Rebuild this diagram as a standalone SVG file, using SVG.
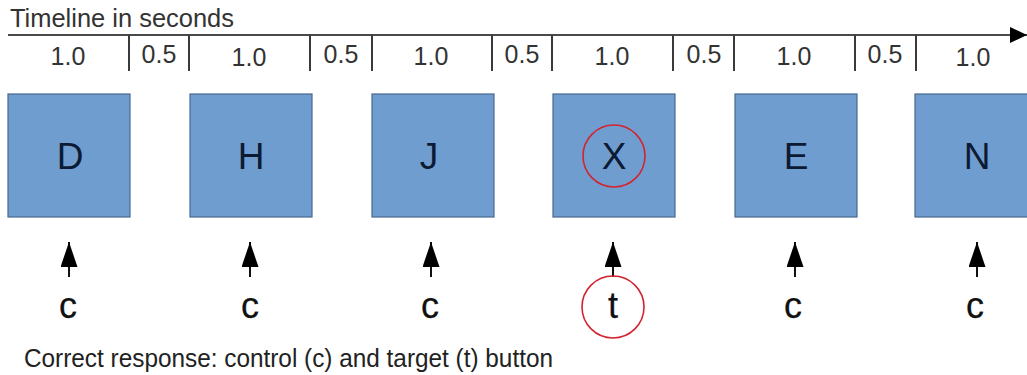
<svg xmlns="http://www.w3.org/2000/svg" width="1027" height="375" viewBox="0 0 1027 375">
  <style>
    text { font-family: "Liberation Sans", Arial, sans-serif; }
    .axis { stroke: #4a4a4a; stroke-width: 2; fill: none; }
    .tick { stroke: #3a3a3a; stroke-width: 2; }
    .dur { font-size: 25px; fill: #333; text-anchor: middle; }
    .title { font-size: 25px; fill: #333; }
    .box { fill: #709dd0; stroke: #47688f; stroke-width: 1.2; }
    .letter { font-size: 37px; fill: #0d1a33; text-anchor: middle; }
    .ring { fill: none; stroke: #d2232f; stroke-width: 1.6; }
    .resp { font-size: 36px; fill: #111; stroke: #111; stroke-width: 0.25; text-anchor: middle; }
    .cue { stroke: #111; stroke-width: 2; marker-end: url(#head); }
    .note { font-size: 26px; fill: #222; }
  </style>
  <defs>
    <marker id="head" markerUnits="userSpaceOnUse" viewBox="0 0 25 17" refX="25" refY="8.5" markerWidth="25" markerHeight="17" orient="auto">
      <path d="M0,0 L25,8.5 L0,17 Z" fill="#000"/>
    </marker>
    <marker id="axisHead" markerUnits="userSpaceOnUse" viewBox="0 0 17 16" refX="17" refY="8" markerWidth="17" markerHeight="16" orient="auto">
      <path d="M0,0 L17,8 L0,16 Z" fill="#000"/>
    </marker>
  </defs>

  <!-- timeline axis with interval marks -->
  <g id="timeline">
    <text class="title" x="10" y="27" textLength="224" lengthAdjust="spacingAndGlyphs">Timeline in seconds</text>
    <line class="axis" x1="8" y1="35" x2="1027" y2="35" marker-end="url(#axisHead)"/>
    <g class="tick">
      <line x1="129" y1="35" x2="129" y2="71"/>
      <line x1="189" y1="35" x2="189" y2="71"/>
      <line x1="310" y1="35" x2="310" y2="71"/>
      <line x1="372" y1="35" x2="372" y2="71"/>
      <line x1="492" y1="35" x2="492" y2="71"/>
      <line x1="552" y1="35" x2="552" y2="71"/>
      <line x1="673" y1="35" x2="673" y2="71"/>
      <line x1="734" y1="35" x2="734" y2="71"/>
      <line x1="855" y1="35" x2="855" y2="71"/>
      <line x1="916" y1="35" x2="916" y2="71"/>
    </g>
    <text class="dur" x="68" y="65">1.0</text>
    <text class="dur" x="159" y="63">0.5</text>
    <text class="dur" x="249" y="66">1.0</text>
    <text class="dur" x="341" y="63">0.5</text>
    <text class="dur" x="431" y="65">1.0</text>
    <text class="dur" x="522" y="63">0.5</text>
    <text class="dur" x="612" y="65">1.0</text>
    <text class="dur" x="704" y="63">0.5</text>
    <text class="dur" x="794" y="65">1.0</text>
    <text class="dur" x="885" y="63">0.5</text>
    <text class="dur" x="973" y="66">1.0</text>
  </g>

  <!-- stimulus boxes -->
  <g id="node-D">
    <rect class="box" x="8" y="94" width="122" height="123"/>
    <text class="letter" x="70" y="169">D</text>
  </g>
  <g id="node-H">
    <rect class="box" x="190" y="94" width="122" height="123"/>
    <text class="letter" x="251" y="169">H</text>
  </g>
  <g id="node-J">
    <rect class="box" x="372" y="94" width="122" height="123"/>
    <text class="letter" x="429" y="169">J</text>
  </g>
  <g id="node-X">
    <rect class="box" x="553" y="94" width="122" height="123"/>
    <text class="letter" x="614" y="169">X</text>
    <circle class="ring" cx="614" cy="156" r="31"/>
  </g>
  <g id="node-E">
    <rect class="box" x="735" y="94" width="122" height="123"/>
    <text class="letter" x="796" y="169">E</text>
  </g>
  <g id="node-N">
    <rect class="box" x="915" y="94" width="124" height="123"/>
    <text class="letter" x="977" y="169">N</text>
  </g>

  <!-- response arrows -->
  <g id="connectors">
    <line class="cue" x1="69" y1="277" x2="69" y2="242"/>
    <line class="cue" x1="250" y1="277" x2="250" y2="242"/>
    <line class="cue" x1="431" y1="277" x2="431" y2="242"/>
    <line class="cue" x1="613" y1="277" x2="613" y2="242"/>
    <line class="cue" x1="795" y1="277" x2="795" y2="242"/>
    <line class="cue" x1="977" y1="277" x2="977" y2="242"/>
  </g>

  <!-- response keys -->
  <g id="resp-1"><text class="resp" x="68" y="318">c</text></g>
  <g id="resp-2"><text class="resp" x="250" y="318">c</text></g>
  <g id="resp-3"><text class="resp" x="430" y="318">c</text></g>
  <g id="resp-4">
    <text class="resp" x="613" y="318">t</text>
    <circle class="ring" cx="613" cy="307" r="31"/>
  </g>
  <g id="resp-5"><text class="resp" x="793" y="318">c</text></g>
  <g id="resp-6"><text class="resp" x="975" y="318">c</text></g>

  <text class="note" x="24" y="367" textLength="529" lengthAdjust="spacingAndGlyphs">Correct response: control (c) and target (t) button</text>
</svg>
